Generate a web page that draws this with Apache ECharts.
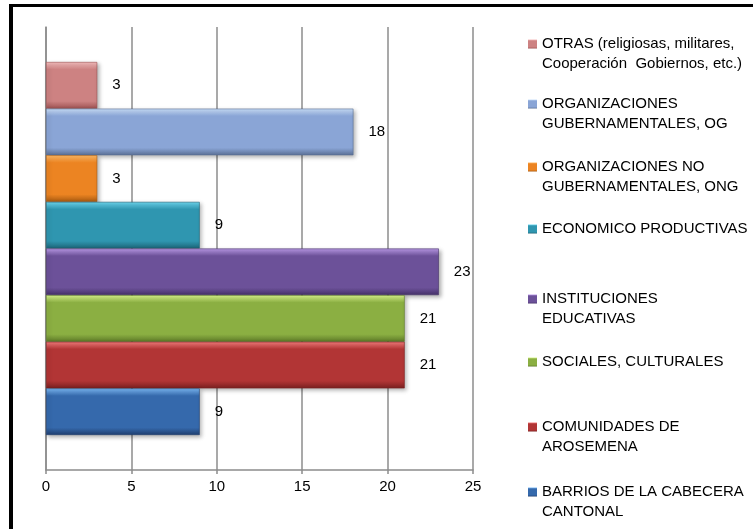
<!DOCTYPE html>
<html><head><meta charset="utf-8">
<script src="https://cdn.jsdelivr.net/npm/echarts@6/dist/echarts.min.js"></script>
<style>
html,body{margin:0;padding:0;background:#fff;}
#c{position:absolute;left:0;top:0;width:753px;height:529px;}
#frame{position:absolute;left:9px;top:4px;width:760px;height:540px;border-left:4px solid #000;border-top:3px solid #000;pointer-events:none;}
</style></head>
<body>
<div id="c"></div>
<div id="frame"></div>
<script>
// Data (top of bar stack first)
var seriesNames = [
  'OTRAS (religiosas, militares,\nCooperación  Gobiernos, etc.)',
  'ORGANIZACIONES\nGUBERNAMENTALES, OG',
  'ORGANIZACIONES NO\nGUBERNAMENTALES, ONG',
  'ECONOMICO PRODUCTIVAS',
  'INSTITUCIONES\nEDUCATIVAS',
  'SOCIALES, CULTURALES',
  'COMUNIDADES DE\nAROSEMENA',
  'BARRIOS DE LA CABECERA\nCANTONAL'
];
var seriesValues = [3, 18, 3, 9, 23, 21, 21, 9];
var xTicks = [0, 5, 10, 15, 20, 25];

// Styles
var palette = [
  ['#F5BDBD', '#CD8282', '#9E5252'],
  ['#CBE0FA', '#8AA5D6', '#5B7096'],
  ['#FFBA66', '#EC8422', '#A85A10'],
  ['#6CD8F0', '#2F96B0', '#1D6578'],
  ['#BD9CEA', '#6C5199', '#46326A'],
  ['#D8F48C', '#8BAF42', '#5E7A28'],
  ['#F47C7C', '#B23535', '#7A2020'],
  ['#7CBAF6', '#3569AC', '#203F70']
];
var legendTops = [14, 74, 137, 219, 269, 352, 397, 462];

function grad(p) {
  return new echarts.graphic.LinearGradient(0, 0, 0, 1, [
    {offset: 0, color: p[0]},
    {offset: 0.16, color: p[1]},
    {offset: 0.84, color: p[1]},
    {offset: 1, color: p[2]}
  ]);
}

var FONT = '"Liberation Sans", Arial, sans-serif';

var series = seriesNames.map(function (n, i) {
  return {
    name: n,
    type: 'bar',
    data: [seriesValues[i]],
    barGap: '0%',
    barCategoryGap: '15.8%',
    itemStyle: {
      color: grad(palette[i]),
      borderColor: palette[i][2],
      borderWidth: 0.6,
      shadowColor: 'rgba(0,0,0,0.3)',
      shadowBlur: 4,
      shadowOffsetX: 2,
      shadowOffsetY: 2
    },
    label: {
      show: true,
      position: 'right',
      distance: 15,
      color: '#000',
      fontSize: 15,
      fontFamily: FONT
    },
    emphasis: {disabled: true},
    animation: false
  };
});

var legends = seriesNames.map(function (n, i) {
  var twoLine = n.indexOf('\n') >= 0;
  return {
    data: [{name: n, icon: 'rect'}],
    orient: 'vertical',
    left: 528,
    top: legendTops[i],
    padding: 0,
    itemWidth: 9,
    itemHeight: 9,
    itemGap: 0,
    selectedMode: false,
    formatter: function (name) { return twoLine ? '\n' + name : name; },
    itemStyle: {borderWidth: 0},
    textStyle: {
      color: '#000',
      fontSize: 15,
      fontFamily: FONT,
      lineHeight: 20
    }
  };
});

var chart = echarts.init(document.getElementById('c'), null, {renderer: 'canvas'});
chart.setOption({
  animation: false,
  backgroundColor: '#fff',
  legend: legends,
  grid: {left: 46, right: 280, top: 27, bottom: 59, containLabel: false},
  xAxis: {
    type: 'value',
    min: xTicks[0],
    max: xTicks[xTicks.length - 1],
    interval: xTicks[1] - xTicks[0],
    axisLine: {show: true, lineStyle: {color: '#8C8C8C', width: 1.5}},
    axisTick: {show: true, length: 4, lineStyle: {color: '#8C8C8C', width: 1.5}},
    axisLabel: {color: '#000', fontSize: 15, fontFamily: FONT, margin: 9},
    splitLine: {show: true, lineStyle: {color: '#8C8C8C', width: 1.5}}
  },
  yAxis: {
    type: 'category',
    data: [''],
    axisLine: {show: true, lineStyle: {color: '#8C8C8C', width: 1.5}},
    axisTick: {show: false},
    axisLabel: {show: false}
  },
  series: series
});
</script>
</body></html>
